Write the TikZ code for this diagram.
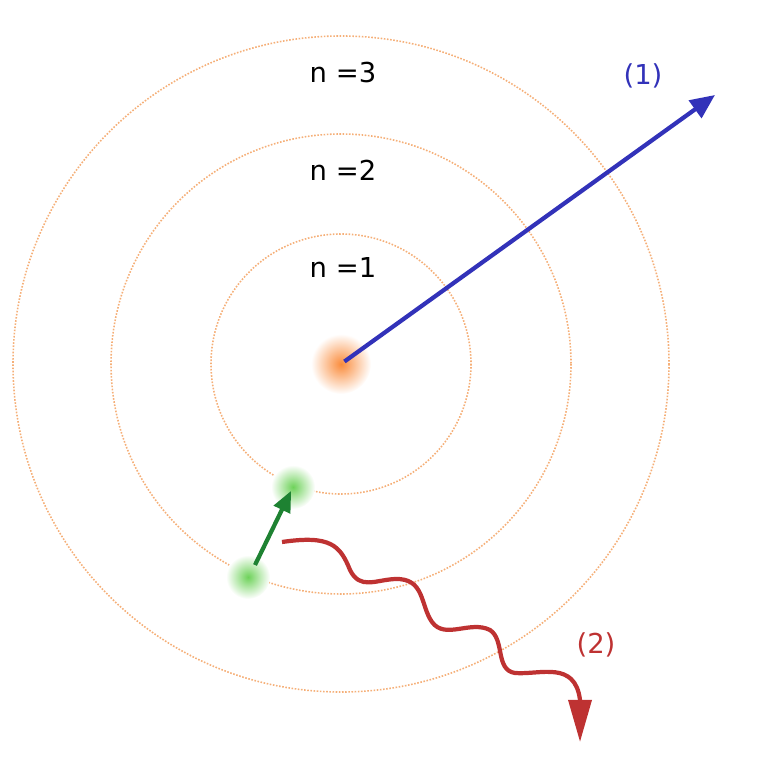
\documentclass[tikz,border=0pt]{standalone}
\usepackage{fontspec}
\setmainfont{DejaVu Sans}
\usetikzlibrary{arrows.meta, positioning}
\definecolor{orbit}{RGB}{245,175,120}
\definecolor{nucl}{RGB}{250,140,60}
\definecolor{elec}{RGB}{110,210,90}
\definecolor{photonblue}{RGB}{50,50,185}
\definecolor{photonred}{RGB}{190,50,50}
\definecolor{jump}{RGB}{30,130,50}
\begin{document}
\begin{tikzpicture}[x=0.01cm, y=-0.01cm, >={Triangle[length=7pt,width=6pt]}, font=\fontsize{7.8}{9}\selectfont]
  \tikzset{
    ring/.style={draw=orbit, line width=0.45pt, dash pattern=on 0.45pt off 0.45pt},
    glow/.style={circle, minimum size=#1, inner sep=0pt},
    lbl/.style={text centered}
  }
  \useasboundingbox (0,0) rectangle (768,768);

  \foreach \r in {130,230,328}
    \draw[ring] (341,364) circle (\r);

  % glowing particles
  \shade[inner color=nucl, outer color=white] (341,364) circle (30);
  \shade[inner color=elec, outer color=white] (293,487) circle (22);
  \shade[inner color=elec, outer color=white] (248,577) circle (22);
  \node[glow=2pt] (core) at (341,364) {};
  \node[glow=2pt] (e1) at (293,487) {};
  \node[glow=2pt] (e2) at (248,577) {};

  \node[lbl] (n3) at (343,73) {n =3};
  \node[lbl] (n2) at (343,170) {n =2};
  \node[lbl] (n1) at (343,268) {n =1};

  \coordinate (b1) at (715,95);
  \draw[->, photonblue, line width=1.2pt] (core) -- (b1);
  \node[lbl, text=photonblue] (lab1) at (643,76) {(1)};

  \coordinate (r0) at (282,542);
  \coordinate (r1) at (580,742);
  \draw[->, photonred, line width=1.2pt, >={Triangle[length=12pt,width=6.5pt]}] (r0) .. controls (330,535) and (340,545) .. (350,570)
    .. controls (360,590) and (375,580) .. (395,579)
    .. controls (425,578) and (420,605) .. (432,622)
    .. controls (445,640) and (470,620) .. (490,630)
    .. controls (505,640) and (495,670) .. (515,673)
    .. controls (540,675) and (575,660) .. (580,700) -- (r1);
  \node[lbl, text=photonred] (lab2) at (596,645) {(2)};

  \draw[->, jump, line width=1.2pt, >={Triangle[length=6pt,width=5pt]}] (255,565) -- (e1);
\end{tikzpicture}
\end{document}
